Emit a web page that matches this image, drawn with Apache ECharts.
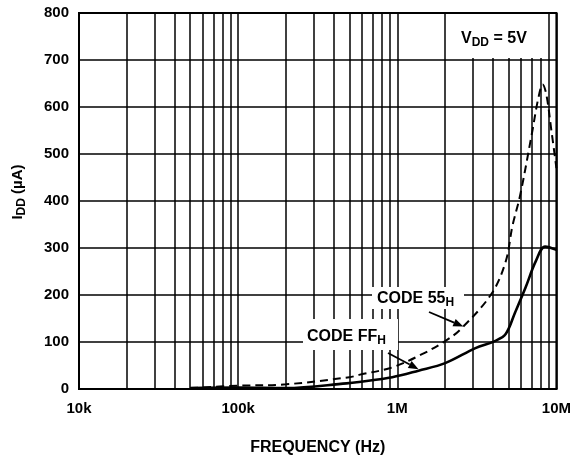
<!DOCTYPE html>
<html><head><meta charset="utf-8">
<script src="https://cdn.jsdelivr.net/npm/echarts@6/dist/echarts.min.js"></script>
<style>html,body{margin:0;padding:0;background:#fff}#c{width:574px;height:461px}</style>
</head><body><div id="c"></div>
<script>
// ---- data ----
const freq55 = [5e4, 1e5, 2e5, 5e5, 5.75e5, 9.3e5, 1.43e6, 2.0e6, 2.5e6, 3.9e6, 4.8e6, 5.3e6, 5.9e6, 7.0e6, 7.7e6, 8.2e6, 8.65e6, 9.3e6, 1e7];
const idd55  = [2, 7, 10, 25, 30, 46, 74, 102, 127, 202, 271, 348, 410, 542, 619, 648, 626, 550, 470];
const freqFF = [5e4, 1e5, 2e5, 4.8e5, 5.75e5, 9.3e5, 1.36e6, 2.0e6, 3.1e6, 4.1e6, 4.8e6, 5.5e6, 6.4e6, 7.4e6, 8.5e6, 1e7];
const iddFF  = [2, 3, 2, 12, 15, 25, 39, 55, 87, 102, 117, 163, 216, 271, 303, 296];
const xTickValues = [1e4, 1e5, 1e6, 1e7];
const xTickLabels = ['10k', '100k', '1M', '10M'];
const yTickValues = [0, 100, 200, 300, 400, 500, 600, 700, 800];
const minorGridFreqs = [2e4,3e4,4e4,5e4,6e4,7e4,8e4,9e4, 2e5,3e5,4e5,5e5,6e5,7e5,8e5,9e5, 2e6,3e6,4e6,5e6,6e6,7e6,8e6,9e6];
// annotation anchors (data coords the arrows point to)
const arrow55Tip = [2.6e6, 133];
const arrowFFTip = [1.36e6, 42];

const FONT = '"Liberation Sans", Arial, Helvetica, sans-serif';
const chart = echarts.init(document.getElementById('c'), null, {renderer: 'canvas'});

function pairs(xs, ys) { return xs.map((x, i) => [x, ys[i]]); }

const option = {
  animation: false,
  backgroundColor: '#fff',
  grid: { left: 79, right: 16, top: 13, bottom: 64, show: true, borderColor: '#000', borderWidth: 2, backgroundColor: 'transparent' },
  xAxis: {
    type: 'log', logBase: 10, min: 1e4, max: 1e7,
    name: 'FREQUENCY (Hz)', nameLocation: 'middle', nameGap: 51,
    nameTextStyle: { fontFamily: FONT, fontWeight: 'bold', fontSize: 16, color: '#000' },
    axisLine: { show: true, lineStyle: { color: '#000', width: 2 } },
    axisTick: { show: false },
    axisLabel: { fontFamily: FONT, fontWeight: 'bold', fontSize: 15, color: '#000', margin: 12,
      formatter: v => { const i = xTickValues.findIndex(t => Math.abs(t - v) / t < 1e-6); return i >= 0 ? xTickLabels[i] : ''; } },
    splitLine: { show: true, lineStyle: { color: '#000', width: 1.5 } },
    minorTick: { show: false }, minorSplitLine: { show: false }
  },
  yAxis: {
    type: 'value', min: 0, max: 800, interval: 100,
    axisLine: { show: true, lineStyle: { color: '#000', width: 2 } },
    axisTick: { show: false },
    axisLabel: { fontFamily: FONT, fontWeight: 'bold', fontSize: 15, color: '#000', margin: 10,
      formatter: v => String(yTickValues[yTickValues.indexOf(v)]) },
    splitLine: { show: true, lineStyle: { color: '#000', width: 1.5 } }
  },
  series: [
    {
      name: 'CODE 55H', type: 'line', data: pairs(freq55, idd55), smooth: 0.35,
      showSymbol: false, lineStyle: { color: '#000', width: 2, type: [8, 5] }, z: 5,
      markLine: {
        silent: true, symbol: ['none', 'none'], label: { show: false },
        lineStyle: { color: '#000', width: 1.5, type: 'solid' },
        data: minorGridFreqs.map(f => ({ xAxis: f })), z: 1
      }
    },
    {
      name: 'CODE FFH', type: 'line', data: pairs(freqFF, iddFF), smooth: 0.35,
      showSymbol: false, lineStyle: { color: '#000', width: 2.6 }, z: 6
    }
  ]
};
chart.setOption(option);

function arrow(from, to, head, w) {
  const dx = to[0] - from[0], dy = to[1] - from[1];
  const L = Math.hypot(dx, dy), ux = dx / L, uy = dy / L;
  const bx = to[0] - ux * head, by = to[1] - uy * head;
  return [
    { type: 'line', shape: { x1: from[0], y1: from[1], x2: bx, y2: by }, style: { stroke: '#000', lineWidth: 1.8 }, z: 20 },
    { type: 'polygon', shape: { points: [to, [bx - uy * w, by + ux * w], [bx + uy * w, by - ux * w]] }, style: { fill: '#000' }, z: 20 }
  ];
}
const main = { fontFamily: FONT, fontWeight: 'bold', fontSize: 16, color: '#000' };
const sub = { fontFamily: FONT, fontWeight: 'bold', fontSize: 12, color: '#000', padding: [8, 0, 0, 0] };
function label(x, y, rich, text, box) {
  return [
    { type: 'rect', shape: box, style: { fill: '#fff' }, z: 15 },
    { type: 'text', x: x, y: y, z: 16, style: { text: text, rich: rich, align: 'left', verticalAlign: 'middle', fontFamily: FONT } }
  ];
}
const tip55 = chart.convertToPixel({ gridIndex: 0 }, arrow55Tip);
const tipFF = chart.convertToPixel({ gridIndex: 0 }, arrowFFTip);
const rich = { a: main, s: sub };
const graphics = [].concat(
  label(461, 39, rich, '{a|V}{s|DD}{a| = 5V}', { x: 448, y: 14, width: 98, height: 44 }),
  label(377, 299, rich, '{a|CODE 55}{s|H}', { x: 372, y: 287, width: 92, height: 22 }),
  label(307, 337, rich, '{a|CODE FF}{s|H}', { x: 303, y: 319, width: 95, height: 31 }),
  arrow([429, 312], tip55, 10, 4),
  arrow([388, 353], tipFF, 10, 4),
  [{ type: 'text', x: 18, y: 192, rotation: Math.PI / 2, z: 16,
     style: { text: '{a|I}{s|DD}{a| (\u00b5A)}', rich: { a: Object.assign({}, main, { fontSize: 15 }), s: sub }, align: 'center', verticalAlign: 'middle', fontFamily: FONT } }]
);
chart.setOption({ graphic: graphics });
</script></body></html>
